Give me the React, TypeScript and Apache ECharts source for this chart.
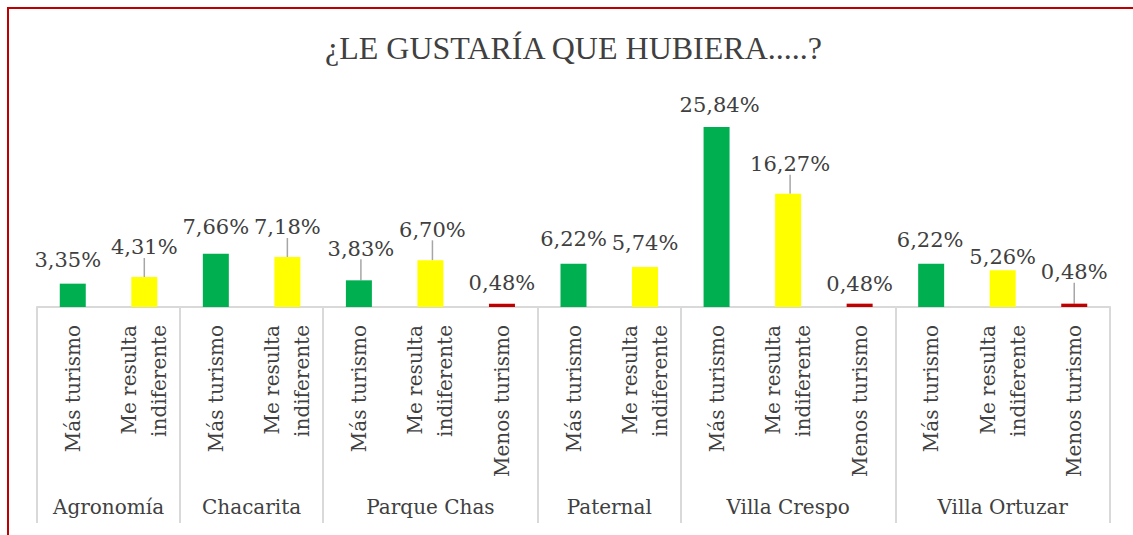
import React, { useEffect, useRef } from "react";
import * as echarts from "echarts";

// Barrios and the number of answers shown for each one
const barrios = ["Agronomía", "Chacarita", "Parque Chas", "Paternal", "Villa Crespo", "Villa Ortuzar"];
const barrioSizes = [2, 2, 3, 2, 3, 3];

// Answer of each bar, in order
const respuestas = [
  "Más turismo", "Me resulta\nindiferente",
  "Más turismo", "Me resulta\nindiferente",
  "Más turismo", "Me resulta\nindiferente", "Menos turismo",
  "Más turismo", "Me resulta\nindiferente",
  "Más turismo", "Me resulta\nindiferente", "Menos turismo",
  "Más turismo", "Me resulta\nindiferente", "Menos turismo",
];

// Percentages
const porcentajes = [
  3.35, 4.31,
  7.66, 7.18,
  3.83, 6.70, 0.48,
  6.22, 5.74,
  25.84, 16.27, 0.48,
  6.22, 5.26, 0.48,
];

// Label nudges [dx, dy] and whether a leader line is drawn
const labelNudge: [number, number][] = [
  [-5, -8], [0, -14],
  [0, -11], [0, -14],
  [2, -16], [2, -15], [0, -5],
  [0, -9], [0, -9],
  [3, -6], [2, -14], [0, -4],
  [-1, -8], [0, 2], [0, -16],
];
const leader = [false, true, false, true, true, true, false, false, false, false, true, false, false, false, true];

const colorFor: Record<string, string> = {
  "Más turismo": "#00b050",
  "Me resulta\nindiferente": "#ffff00",
  "Menos turismo": "#c00000",
};

const serif = "'DejaVu Serif', serif";

export default function App() {
  const ref = useRef<HTMLDivElement>(null);

  useEffect(() => {
    if (!ref.current) return;
    const chart = echarts.init(ref.current, null, { renderer: "svg" });

    const bounds: number[] = [0];
    const centers: number[] = [];
    barrioSizes.forEach((n) => {
      const start = bounds[bounds.length - 1];
      centers.push(start + n / 2);
      bounds.push(start + n);
    });
    const total = bounds[bounds.length - 1];

    chart.setOption({
      animation: false,
      backgroundColor: "#ffffff",
      title: {
        text: "¿LE GUSTARÍA QUE HUBIERA.....?",
        left: 320,
        top: 27,
        textStyle: {
          fontFamily: "'Liberation Serif', serif",
          fontSize: 32,
          fontWeight: "normal",
          color: "#404040",
        },
      },
      graphic: [
        {
          type: "rect",
          shape: { x: 8, y: 8, width: 1300, height: 700 },
          style: { fill: "none", stroke: "#c00000", lineWidth: 2 },
          silent: true,
        },
      ],
      grid: { left: 37, right: 23, top: 98, bottom: 228 },
      xAxis: [
        {
          type: "category",
          data: respuestas,
          position: "bottom",
          axisLine: { lineStyle: { color: "#d9d9d9", width: 2 } },
          axisTick: { show: false },
          axisLabel: {
            rotate: 90,
            interval: 0,
            margin: 18,
            fontFamily: serif,
            fontSize: 20,
            lineHeight: 30,
            color: "#404040",
          },
        },
        {
          type: "value",
          min: 0,
          max: total,
          position: "bottom",
          axisLine: { show: false },
          splitLine: { show: false },
          axisTick: {
            show: true,
            customValues: bounds,
            length: 216,
            lineStyle: { color: "#d9d9d9", width: 2 },
          },
          axisLabel: {
            customValues: centers,
            margin: 190,
            fontFamily: serif,
            fontSize: 20,
            color: "#404040",
            formatter: (v: number) => {
              const i = centers.findIndex((c) => Math.abs(c - v) < 1e-6);
              return i >= 0 ? barrios[i] : "";
            },
          },
        },
      ],
      yAxis: { type: "value", min: 0, max: 30, show: false },
      series: [
        {
          type: "bar",
          xAxisIndex: 0,
          barWidth: 26,
          data: porcentajes.map((v, i) => ({
            value: v,
            itemStyle: { color: colorFor[respuestas[i]] },
            labelLine: { show: leader[i] },
          })),
          label: {
            show: true,
            position: "top",
            distance: 5,
            fontFamily: serif,
            fontSize: 21,
            color: "#404040",
            formatter: (p: any) => p.value.toFixed(2).replace(".", ",") + "%",
          },
          labelLine: { show: false, lineStyle: { color: "#a6a6a6", width: 1.5 } },
          labelLayout: (p: any) => ({ dx: labelNudge[p.dataIndex][0], dy: labelNudge[p.dataIndex][1] }),
        },
      ],
    });

    return () => chart.dispose();
  }, []);

  return <div ref={ref} style={{ position: "absolute", left: 0, top: 0, width: 1133, height: 535 }} />;
}
